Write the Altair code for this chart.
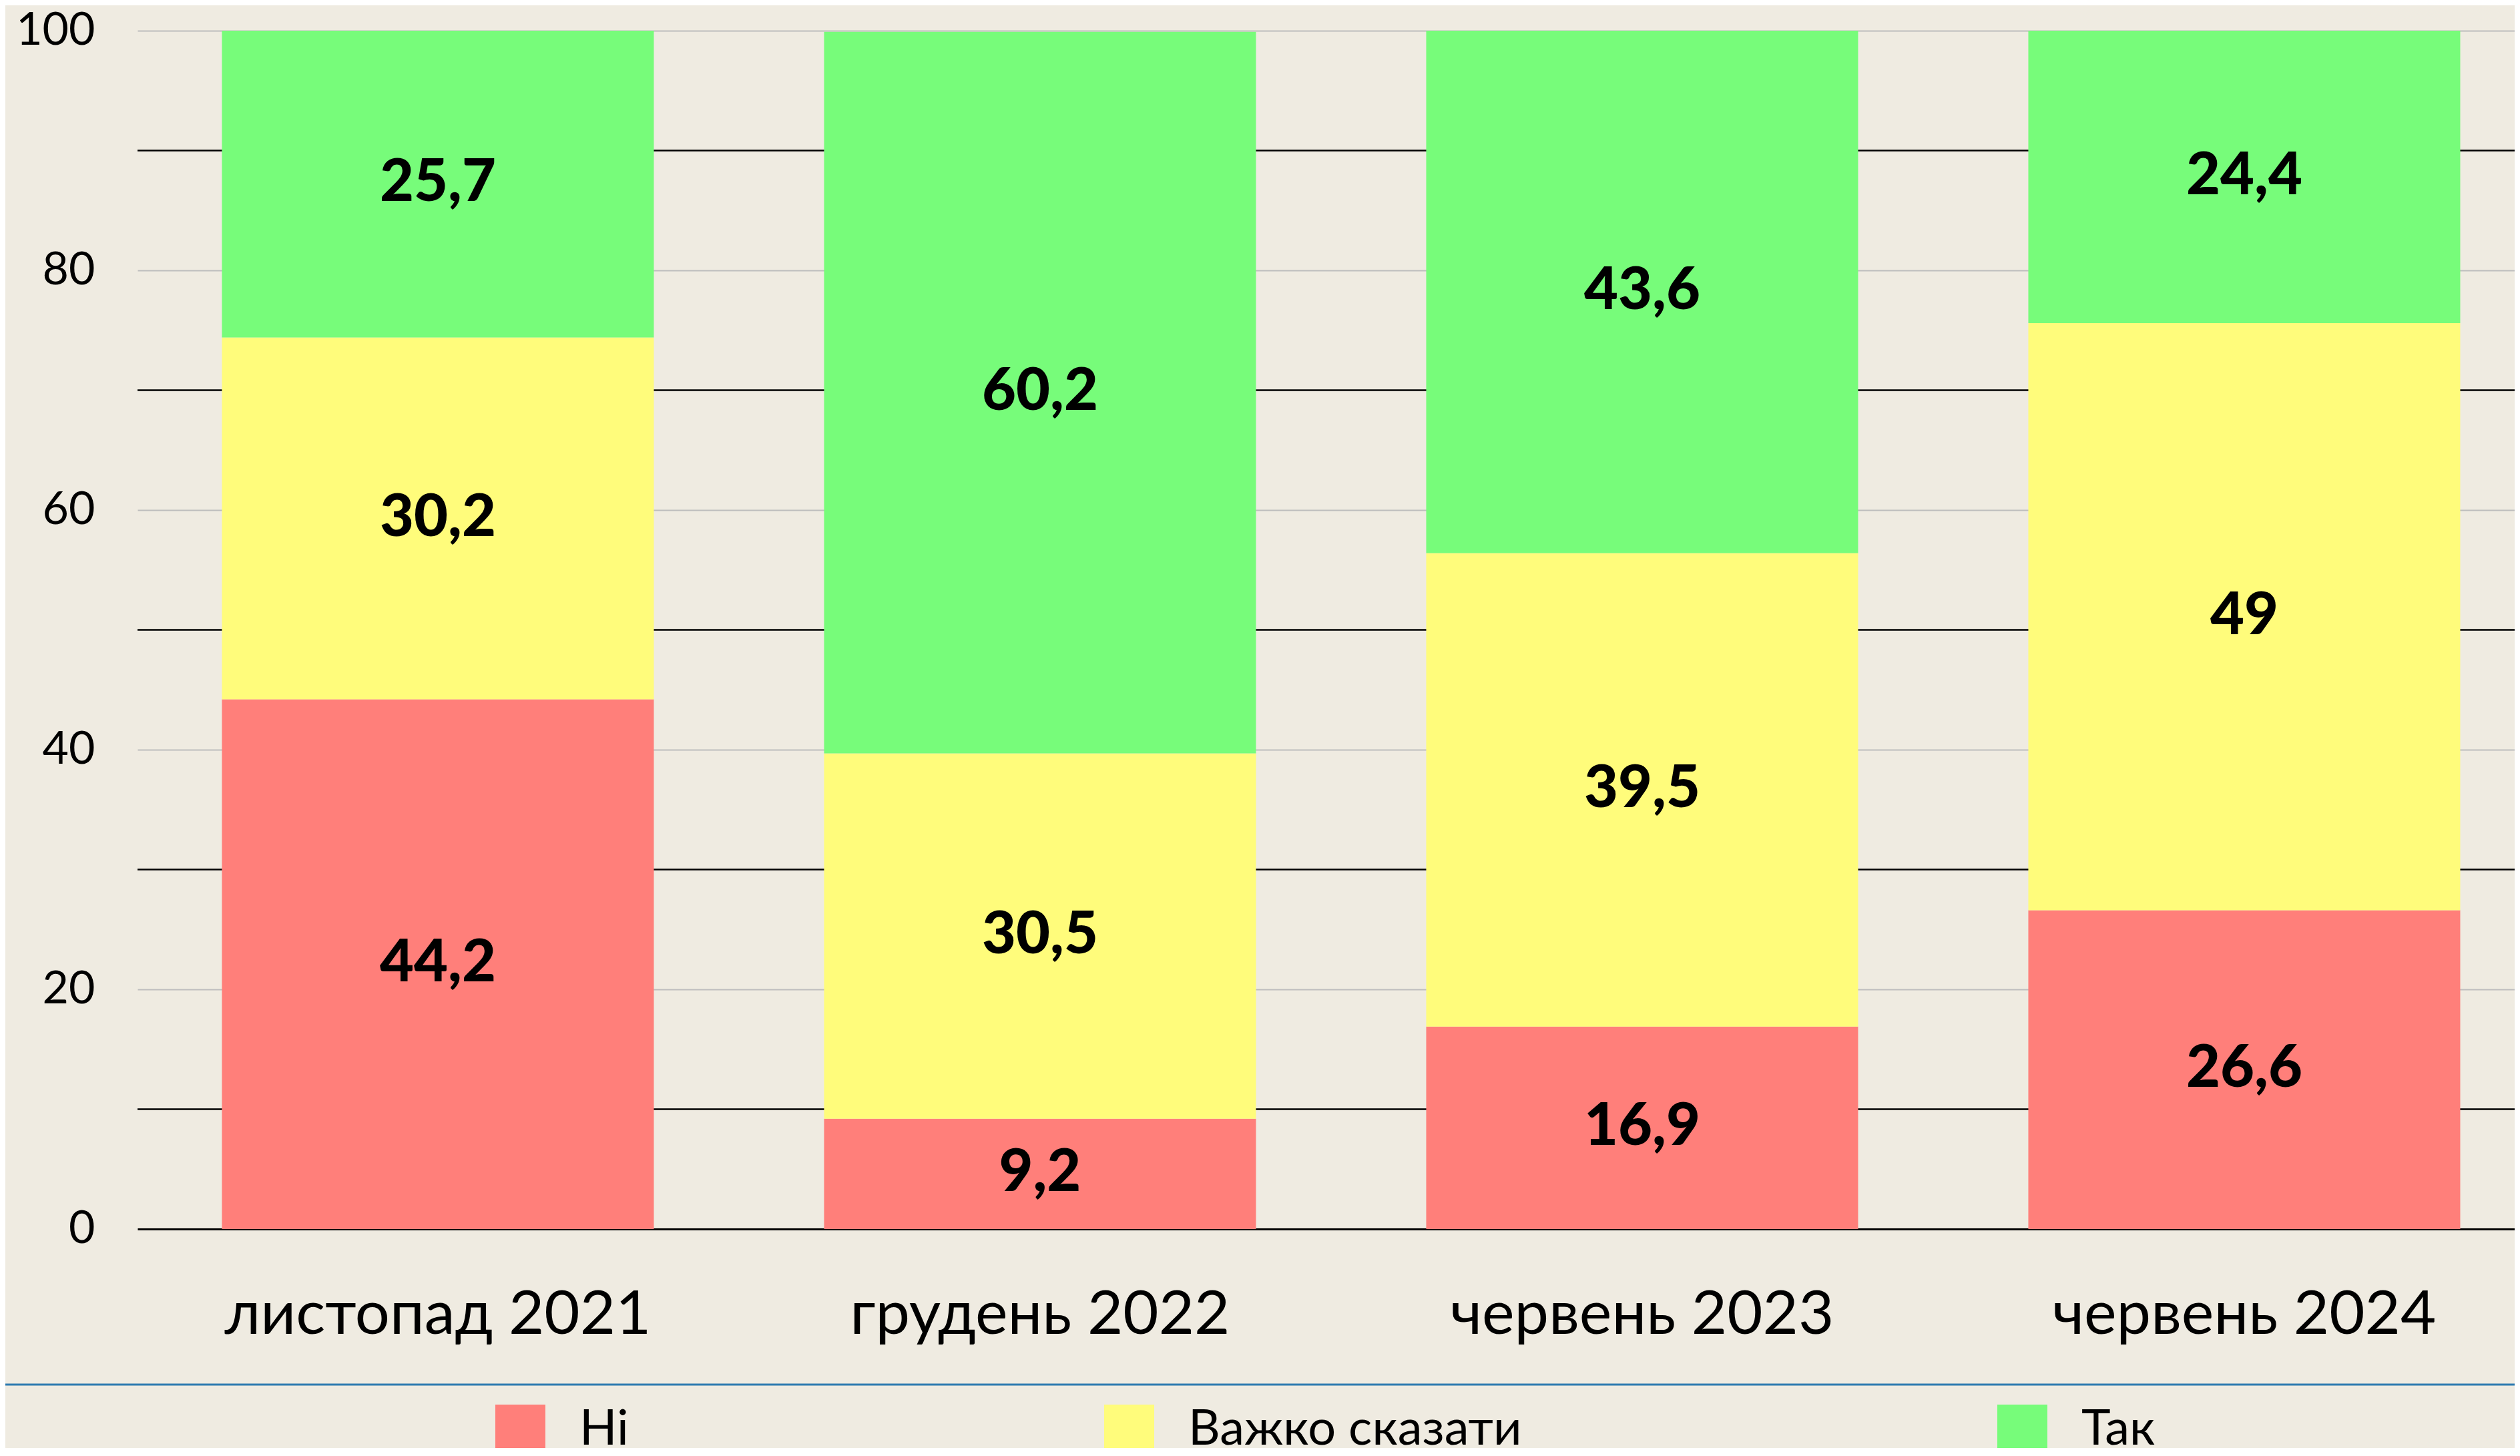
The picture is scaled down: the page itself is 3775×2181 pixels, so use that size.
import altair as alt
import pandas as pd

periods = ["листопад 2021", "грудень 2022", "червень 2023", "червень 2024"]
answers = ["Ні", "Важко сказати", "Так"]
ni = [44.2, 9.2, 16.9, 26.6]
vazhko = [30.2, 30.5, 39.5, 49.0]
tak = [25.7, 60.2, 43.6, 24.4]
colors = ["#ff7f7a", "#fffc7b", "#77fc7a"]
major_ticks = [0, 20, 40, 60, 80, 100]
minor_ticks = [10, 30, 50, 70, 90]

rows = []
for i, p in enumerate(periods):
    for j, (a, vals) in enumerate(zip(answers, [ni, vazhko, tak])):
        v = vals[i]
        rows.append(dict(period=p, answer=a, order=j, value=v,
                         label=f"{v:g}".replace(".", ",")))
df = pd.DataFrame(rows)
minor_df = pd.DataFrame({"tick": minor_ticks})
one_df = pd.DataFrame({"a": [0]})

W = 3561
H = 1795
FONT = "Lato"

x_scale = alt.Scale(domain=periods, paddingInner=0.2827, paddingOuter=0.1153, align=0.608)
y_scale = alt.Scale(domain=[0, 100], nice=False, zero=True)

x_axis = alt.Axis(title=None, labelAngle=0, ticks=False, tickSize=0, domain=True,
                  domainColor="black", domainWidth=3, grid=False,
                  labelFont=FONT, labelFontSize=92, labelColor="black",
                  labelPadding=156, labelBaseline="alphabetic", labelLimit=2000)
y_axis = alt.Axis(title=None, values=major_ticks, ticks=False, tickSize=0, domain=False,
                  grid=True, gridColor="#bdbdbd", gridWidth=2,
                  labelFont=FONT, labelFontSize=68, labelColor="black",
                  labelPadding=64, labelLimit=500)

rules = alt.Chart(minor_df).mark_rule(color="black", strokeWidth=2.5).encode(
    y=alt.Y("tick:Q", scale=y_scale, axis=y_axis),
    x=alt.value(0),
    x2=alt.value(W),
)

bars = alt.Chart(df).mark_bar(clip=True).encode(
    x=alt.X("period:N", sort=periods, scale=x_scale, axis=x_axis),
    y=alt.Y("value:Q", stack="zero", scale=y_scale, axis=y_axis),
    color=alt.Color(
        "answer:N", sort=answers,
        scale=alt.Scale(domain=answers, range=colors),
        legend=alt.Legend(
            title=None, orient="none", legendX=536, legendY=2058,
            direction="horizontal", symbolType="square", symbolSize=5625,
            symbolStrokeWidth=0, labelFont=FONT, labelFontSize=74,
            labelColor="black", labelOffset=51, columnPadding=712,
            labelLimit=2000, padding=0,
        ),
    ),
    order=alt.Order("order:Q", sort="ascending"),
)

text = alt.Chart(df).transform_stack(
    stack="value", groupby=["period"], as_=["y0", "y1"],
    sort=[alt.SortField("order", order="ascending")],
).transform_calculate(
    mid="(datum.y0 + datum.y1) / 2"
).mark_text(
    font=FONT, fontSize=88, fontWeight=900, color="black", baseline="middle", align="center"
).encode(
    x=alt.X("period:N", sort=periods, scale=x_scale, axis=x_axis),
    y=alt.Y("mid:Q", scale=y_scale, axis=y_axis),
    text="label:N",
)

sep = alt.Chart(one_df).mark_rule(color="#2e7bb0", strokeWidth=3).encode(
    x=alt.value(-210),
    x2=alt.value(W + 20),
    y=alt.value(2028),
)

chart = alt.layer(rules, bars, text, sep).properties(
    width=W,
    height=H,
    autosize=alt.AutoSizeParams(type="none"),
    padding={"left": 198, "top": 38, "right": 0, "bottom": 328},
    background="#efebe1",
).configure_view(stroke=None)

chart.save("out.html", embed_options={"renderer": "svg", "actions": False})
